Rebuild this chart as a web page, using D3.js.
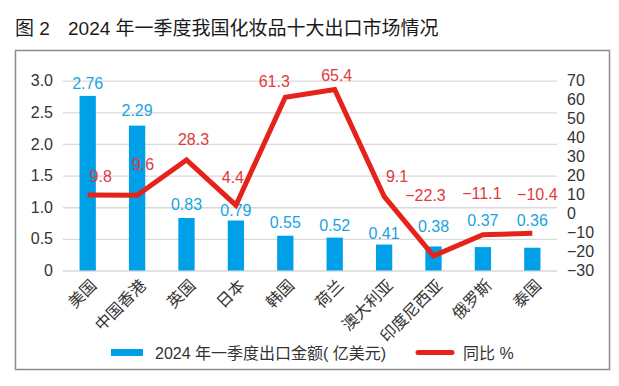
<!DOCTYPE html>
<html>
<head>
<meta charset="utf-8">
<script src="https://cdn.jsdelivr.net/npm/d3@7"></script>
<style>
  body { margin: 0; background: #fff; }
  svg text { font-family: 'Liberation Sans', 'Noto Sans CJK SC', sans-serif; }
</style>
</head>
<body>
<div id="chart"></div>
<script>
// Data
const countries = ['美国', '中国香港', '英国', '日本', '韩国', '荷兰', '澳大利亚', '印度尼西亚', '俄罗斯', '泰国'];
const exportValue = [2.76, 2.29, 0.83, 0.79, 0.55, 0.52, 0.41, 0.38, 0.37, 0.36];
const yoyGrowth = [9.8, 9.6, 28.3, 4.4, 61.3, 65.4, 9.1, -22.3, -11.1, -10.4];
const leftTicks = [0, 0.5, 1.0, 1.5, 2.0, 2.5, 3.0];
const rightTicks = [-30, -20, -10, 0, 10, 20, 30, 40, 50, 60, 70];
const barLegend = '2024 年一季度出口金额( 亿美元)';
const lineLegend = '同比 %';

// hand-placed label nudges (px) as in the original
const barLabelGap = [7, 10, 8, 5, 8, 7, 6, 14, 21, 22];
const lineLabelNudge = [[13, -13], [6, -25], [7, -15], [-3, -22], [-11, -10], [2, -8], [13, -14], [-8, -55], [-1, -36], [5, -33]];

const W = 619, H = 386;
const plot = { left: 63, right: 557, top: 80.7, bottom: 270.5 };
const BLUE = '#00a0e9', RED = '#e5231b', RED_TXT = '#e3393c', GRID = '#d9d9d9', TXT = '#333';

const svg = d3.select('#chart').append('svg')
    .attr('width', W).attr('height', H);

// Title
svg.append('text').attr('x', 15).attr('y', 35)
    .attr('font-size', 19).attr('fill', '#1a1a1a')
    .text('图 2');
svg.append('text').attr('x', 68).attr('y', 35)
    .attr('font-size', 19).attr('fill', '#1a1a1a')
    .text('2024 年一季度我国化妆品十大出口市场情况');

// Frame
svg.append('rect').attr('x', 15.5).attr('y', 50.5).attr('width', 594).attr('height', 319)
    .attr('fill', 'none').attr('stroke', '#8c8c8c').attr('stroke-width', 1.5);

// Scales
const x = d3.scaleBand().domain(countries).range([plot.left, plot.right]).paddingInner(0.67).paddingOuter(0.335);
const yL = d3.scaleLinear().domain([0, 3]).range([plot.bottom, plot.top]);
const yR = d3.scaleLinear().domain([-30, 70]).range([plot.bottom, plot.top]);
const cx = d => x(d) + x.bandwidth() / 2;

// Grid
svg.append('g')
    .attr('transform', `translate(${plot.left},0)`)
    .call(d3.axisLeft(yL).tickValues(leftTicks).tickSize(-(plot.right - plot.left)).tickFormat(''))
    .call(ax => ax.select('.domain').remove())
    .call(ax => ax.selectAll('line').attr('stroke', GRID).attr('stroke-width', 1.3));

// Left axis labels
svg.append('g')
    .attr('transform', `translate(${plot.left},0)`)
    .call(d3.axisLeft(yL).tickValues(leftTicks).tickSize(0).tickPadding(10)
        .tickFormat(d => d === 0 ? '0' : d3.format('.1f')(d)))
    .call(ax => ax.select('.domain').remove())
    .call(ax => ax.selectAll('text').attr('fill', TXT).attr('font-size', 16)
        .style('font-family', "'Liberation Sans', sans-serif"));

// Right axis labels
svg.append('g')
    .attr('transform', `translate(${plot.right},0)`)
    .call(d3.axisRight(yR).tickValues(rightTicks).tickSize(0).tickPadding(10)
        .tickFormat(d => d < 0 ? '\u2212' + Math.abs(d) : d))
    .call(ax => ax.select('.domain').remove())
    .call(ax => ax.selectAll('text').attr('fill', TXT).attr('font-size', 16)
        .style('font-family', "'Liberation Sans', sans-serif"));

// Bars
svg.append('g').selectAll('rect').data(exportValue).join('rect')
    .attr('x', (d, i) => x(countries[i]))
    .attr('y', d => yL(d))
    .attr('width', x.bandwidth())
    .attr('height', d => yL(0) - yL(d))
    .attr('fill', BLUE);

// Bar labels
svg.append('g').selectAll('text').data(exportValue).join('text')
    .attr('x', (d, i) => cx(countries[i]))
    .attr('y', (d, i) => yL(d) - barLabelGap[i])
    .attr('text-anchor', 'middle').attr('font-size', 16).attr('fill', '#1aa3e0')
    .text(d => d.toFixed(2));

// Line
const line = d3.line().x((d, i) => cx(countries[i])).y(d => yR(d));
svg.append('path').datum(yoyGrowth)
    .attr('fill', 'none').attr('stroke', RED).attr('stroke-width', 5)
    .attr('stroke-linejoin', 'miter').attr('d', line);

// Line labels
svg.append('g').selectAll('text').data(yoyGrowth).join('text')
    .attr('x', (d, i) => cx(countries[i]) + lineLabelNudge[i][0])
    .attr('y', (d, i) => yR(d) + lineLabelNudge[i][1])
    .attr('text-anchor', 'middle').attr('font-size', 16).attr('fill', RED_TXT)
    .text(d => d < 0 ? '\u2212' + Math.abs(d).toFixed(1) : d.toFixed(1));

// X labels
svg.append('g').selectAll('text').data(countries).join('text')
    .attr('transform', d => `translate(${cx(d) + 6},${plot.bottom + 12}) rotate(-45)`)
    .attr('text-anchor', 'end').attr('dy', '0.35em')
    .attr('font-size', 16).attr('fill', TXT)
    .style('font-family', "'Noto Sans CJK SC', sans-serif")
    .text(d => d);

// Legend
const lg = svg.append('g');
lg.append('rect').attr('x', 111).attr('y', 349).attr('width', 32).attr('height', 7).attr('fill', BLUE);
lg.append('text').attr('x', 155).attr('y', 353).attr('dy', '0.35em')
    .attr('font-size', 16).attr('fill', TXT).text(barLegend);
lg.append('line').attr('x1', 418).attr('x2', 452).attr('y1', 352.5).attr('y2', 352.5)
    .attr('stroke', RED).attr('stroke-width', 5).attr('stroke-linecap', 'round');
lg.append('text').attr('x', 463).attr('y', 353).attr('dy', '0.35em')
    .attr('font-size', 16).attr('fill', TXT).text(lineLegend);
</script>
</body>
</html>
